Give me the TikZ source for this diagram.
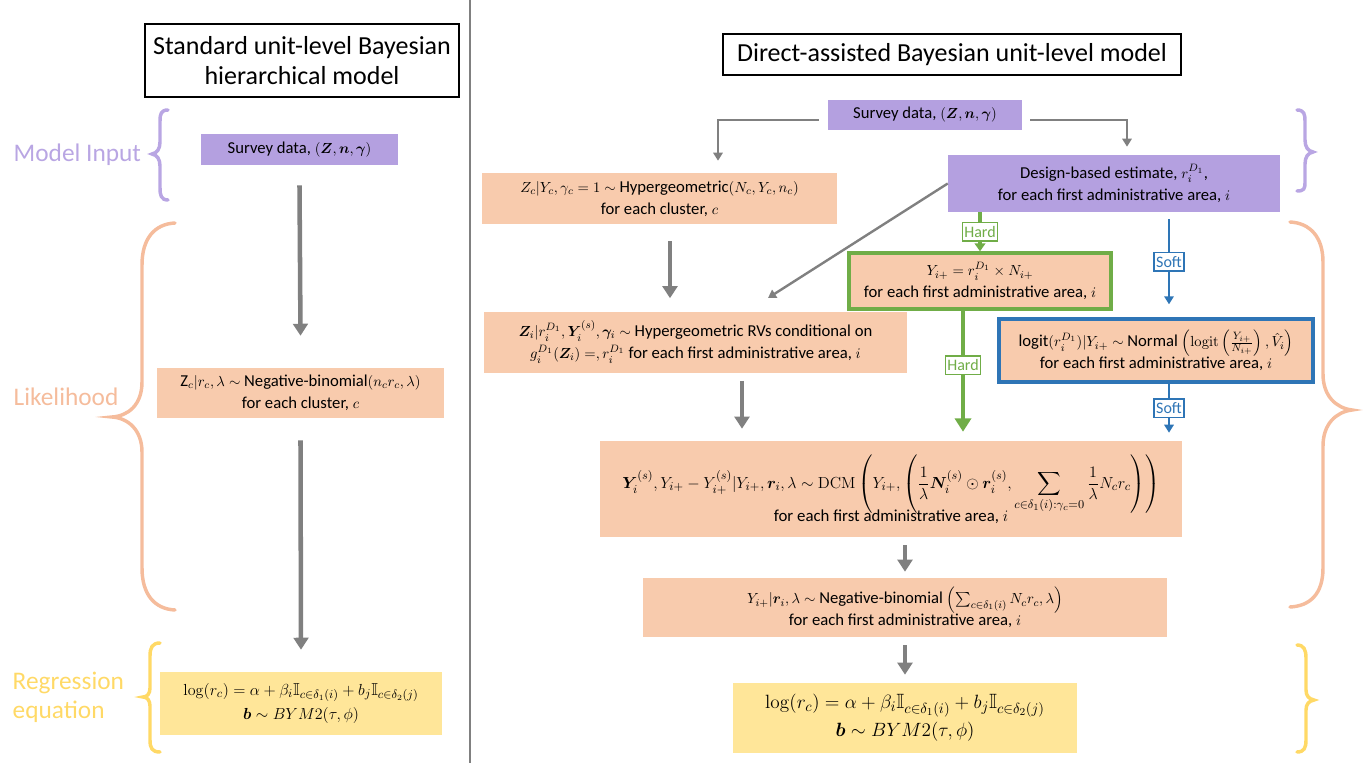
\documentclass[tikz,border=0pt]{standalone}
\usepackage{amsmath,amssymb,bm}
\usepackage[no-math]{fontspec}
\setmainfont{Carlito}
\DeclareMathSizes{12.5}{11}{8}{6}
\DeclareMathSizes{12.6}{12.3}{9}{7}
\usetikzlibrary{arrows.meta,calc}
\definecolor{purp}{HTML}{B4A0E0}
\definecolor{purptext}{HTML}{B9A6E3}
\definecolor{peach}{HTML}{F8CBAD}
\definecolor{likc}{HTML}{F5BC9C}
\definecolor{yel}{HTML}{FFE699}
\definecolor{yelline}{HTML}{FFD966}
\definecolor{grn}{HTML}{70AD47}
\definecolor{blu}{HTML}{2E75B6}
\definecolor{gry}{HTML}{808080}
\tikzset{
  sz/.style 2 args={minimum width=#1*0.75pt, minimum height=#2*0.75pt},
  box/.style={inner sep=0pt, align=center, font=\fontsize{12.5}{16.5}\selectfont, text=black},
  titlebox/.style={draw=black, line width=1.2pt, inner sep=0pt, align=center, font=\fontsize{19.5}{22}\selectfont},
  sidelabel/.style={anchor=west, align=left, font=\fontsize{19}{22}\selectfont},
  bigarrow/.style={draw=gry, line width=3.4pt, -{Triangle[width=11pt,length=9pt]}},
  thinarrow/.style={draw=gry, line width=1.8pt, -{Triangle[width=7pt,length=6pt]}},
  brace/.style={line width=2.6pt, line cap=round},
  lbl/.style={fill=white, line width=1.1pt, inner sep=1.5pt, minimum height=14pt, font=\fontsize{12}{13}\selectfont},
  hardlbl/.style={lbl, draw=grn},
  softlbl/.style={lbl, draw=blu},
}
\begin{document}
\begin{tikzpicture}[x=0.75pt,y=-0.75pt]
\useasboundingbox (0,0) rectangle (1371,763);
% divider
\draw[gry, line width=1.6pt] (470,0) -- (470,763);

% titles
\node[titlebox, sz={314}{73}] (ltitle) at (302,60.5) {Standard unit-level Bayesian\\hierarchical model};
\node[titlebox, sz={458}{41}] (rtitle) at (952,54.5) {Direct-assisted Bayesian unit-level model};

% side labels
\node[sidelabel, text=purptext] (lmi) at (9,155) {Model Input};
\node[sidelabel, text=likc] (llk) at (9,397) {Likelihood};
\node[sidelabel, text=yelline] (lre) at (8,697) {Regression\\equation};

% left braces
\draw[brace, purptext] (168,110) .. controls (161,110) and (160,114) .. (160,121) -- (160,142) .. controls (160,149) and (157,153) .. (152,154) .. controls (157,155) and (160,159) .. (160,166) -- (160,188) .. controls (160,195) and (161,200) .. (168,200);
\draw[brace, likc] (175,223) .. controls (155,224) and (142,238) .. (142,265) -- (142,382) .. controls (142,405) and (128,416) .. (112,417) .. controls (128,418) and (142,430) .. (142,452) -- (142,568) .. controls (142,595) and (155,609) .. (175,610);
\draw[brace, yelline] (160,643) .. controls (152,643) and (150,648) .. (150,656) -- (150,688) .. controls (150,694) and (147,697) .. (143,697) .. controls (147,697) and (150,700) .. (150,706) -- (150,740) .. controls (150,748) and (152,752) .. (160,752);

% right braces
\draw[brace, purptext] (1297,110) .. controls (1304,110) and (1305,114) .. (1305,121) -- (1305,140) .. controls (1305,147) and (1308,151) .. (1313,152) .. controls (1308,153) and (1305,157) .. (1305,164) -- (1305,182) .. controls (1305,189) and (1304,191) .. (1297,191);
\draw[brace, likc] (1290,222) .. controls (1310,223) and (1323,237) .. (1323,262) -- (1323,374) .. controls (1323,396) and (1336,408) .. (1352,410) .. controls (1336,412) and (1323,424) .. (1323,446) -- (1323,568) .. controls (1323,594) and (1310,606) .. (1290,607);
\draw[brace, yelline] (1297,645) .. controls (1304,645) and (1306,650) .. (1306,658) -- (1306,690) .. controls (1306,696) and (1309,699) .. (1314,700) .. controls (1309,701) and (1306,704) .. (1306,710) -- (1306,740) .. controls (1306,748) and (1304,752) .. (1297,752);

% ---------- left column ----------
\node[box, fill=purp, sz={197}{31}] (lsurvey) at (299.5,149.5) {Survey data, $(\boldsymbol{Z},\boldsymbol{n},\boldsymbol{\gamma})$};
\node[box, fill=peach, sz={287}{50}] (llik) at (300.5,393) {Z$_c|r_c,\lambda\sim$ Negative-binomial$(n_c r_c,\lambda)$\\for each cluster, $c$};
\node[box, fill=yel, sz={282}{63}, font=\fontsize{13}{18}\selectfont] (lreg) at (301,703.5) {$\log(r_c)=\alpha+\beta_i\mathbb{I}_{c\in\delta_1(i)}+b_j\mathbb{I}_{c\in\delta_2(j)}$\\$\boldsymbol{b}\sim BYM2(\tau,\phi)$};

\draw[bigarrow] ($(lsurvey.south)+(0,20)$) -- ($(llik.north)+(0,-32)$);
\draw[bigarrow] ($(llik.south)+(0,22)$) -- ($(lreg.north)+(0,-22)$);

% ---------- right column ----------
\node[box, fill=purp, sz={194}{30}] (rsurvey) at (925,115) {Survey data, $(\boldsymbol{Z},\boldsymbol{n},\boldsymbol{\gamma})$};
\node[box, fill=peach, sz={355}{51}] (zc) at (659.5,198.5) {$Z_c|Y_c,\gamma_c=1\sim$ Hypergeometric$(N_c,Y_c,n_c)$\\for each cluster, $c$};
\node[box, fill=purp, sz={332}{57}] (design) at (1114,183.5) {Design-based estimate, $r_i^{D_1}$,\\for each first administrative area, $i$};
\node[box, fill=peach, draw=grn, line width=2.5pt, sz={262}{56}] (ybox) at (980,281) {$Y_{i+}=r_i^{D_1}\times N_{i+}$\\for each first administrative area, $i$};
\node[box, fill=peach, sz={423}{61}] (zi) at (695.5,342) {$\boldsymbol{Z}_i|r_i^{D_1},\boldsymbol{Y}_i^{(s)},\boldsymbol{\gamma}_i\sim$ Hypergeometric RVs conditional on\\$g_i^{D_1}(\boldsymbol{Z}_i)=,r_i^{D_1}$ for each first administrative area, $i$};
\node[box, fill=peach, draw=blu, line width=2.5pt, sz={314}{63}] (logit) at (1156,350.5) {logit$(r_i^{D_1})|Y_{i+}\sim$ Normal $\left(\mathrm{logit}\left(\frac{Y_{i+}}{N_{i+}}\right),\hat{V}_i\right)$\\for each first administrative area, $i$};
\node[box, fill=peach, sz={582}{96}, font=\fontsize{12.6}{16.5}\selectfont] (dcm) at (891,489) {$\displaystyle\boldsymbol{Y}_i^{(s)},Y_{i+}-Y_{i+}^{(s)}|Y_{i+},\boldsymbol{r}_i,\lambda\sim\mathrm{DCM}\left(Y_{i+},\left(\frac{1}{\lambda}\boldsymbol{N}_i^{(s)}\odot\boldsymbol{r}_i^{(s)},\sum_{c\in\delta_1(i):\gamma_c=0}\frac{1}{\lambda}N_c r_c\right)\right)$\\[-4pt]for each first administrative area, $i$};
\node[box, fill=peach, sz={524}{59}] (nb) at (905,607.5) {$Y_{i+}|\boldsymbol{r}_i,\lambda\sim$ Negative-binomial $\left(\sum_{c\in\delta_1(i)}N_c r_c,\lambda\right)$\\for each first administrative area, $i$};
\node[box, fill=yel, sz={344}{70}, font=\fontsize{15.5}{21}\selectfont] (rreg) at (905,718) {$\log(r_c)=\alpha+\beta_i\mathbb{I}_{c\in\delta_1(i)}+b_j\mathbb{I}_{c\in\delta_2(j)}$\\$\boldsymbol{b}\sim BYM2(\tau,\phi)$};

% connectors from survey data
\coordinate (ca) at (718,0);
\coordinate (cb) at (1127,0);
\draw[thinarrow] ($(rsurvey.west)+(-9,5)$) -- ($(ca|-rsurvey.west)+(0,5)$) -- ($(ca|-zc.north)+(0,-12)$);
\draw[thinarrow] ($(rsurvey.east)+(8,5)$) -- ($(cb|-rsurvey.east)+(0,5)$) -- ($(cb|-design.north)+(0,-8)$);

% diagonal from design estimate
\coordinate (dg) at (768,298);
\draw[thinarrow] (design.west) -- (dg);

% gray arrows
\coordinate (c1) at (670,0);
\coordinate (c2) at (742,0);
\coordinate (c3) at (905,0);
\draw[bigarrow] ($(c1|-zc.south)+(0,17)$) -- ($(c1|-zi.north)+(0,-13)$);
\draw[bigarrow] ($(c2|-zi.south)+(0,8)$) -- ($(c2|-dcm.north)+(0,-12)$);
\draw[bigarrow] ($(c3|-dcm.south)+(0,8)$) -- ($(c3|-nb.north)+(0,-6)$);
\draw[bigarrow] ($(c3|-nb.south)+(0,8)$) -- ($(c3|-rreg.north)+(0,-8)$);

% hard (green)
\coordinate (h2) at (963,0);
\draw[grn, line width=2.8pt, -{Triangle[width=8pt,length=6pt]}] (ybox.north|-design.south) -- node[hardlbl]{Hard} (ybox.north);
\draw[grn, line width=3.4pt, -{Triangle[width=12pt,length=10pt]}] (h2|-ybox.south) -- node[hardlbl, pos=0.45]{Hard} ($(h2|-dcm.north)+(0,-9)$);

% soft (blue)
\coordinate (s1) at (1169,0);
\draw[blu, line width=2pt, -{Triangle[width=7pt,length=6pt]}] ($(s1|-design.south)+(0,7)$) -- node[softlbl, pos=0.5]{Soft} ($(s1|-logit.north)+(0,-13)$);
\draw[blu, line width=2pt, -{Triangle[width=7pt,length=6pt]}] (s1|-logit.south) -- node[softlbl, pos=0.5]{Soft} ($(s1|-dcm.north)+(0,-8)$);
\end{tikzpicture}
\end{document}
